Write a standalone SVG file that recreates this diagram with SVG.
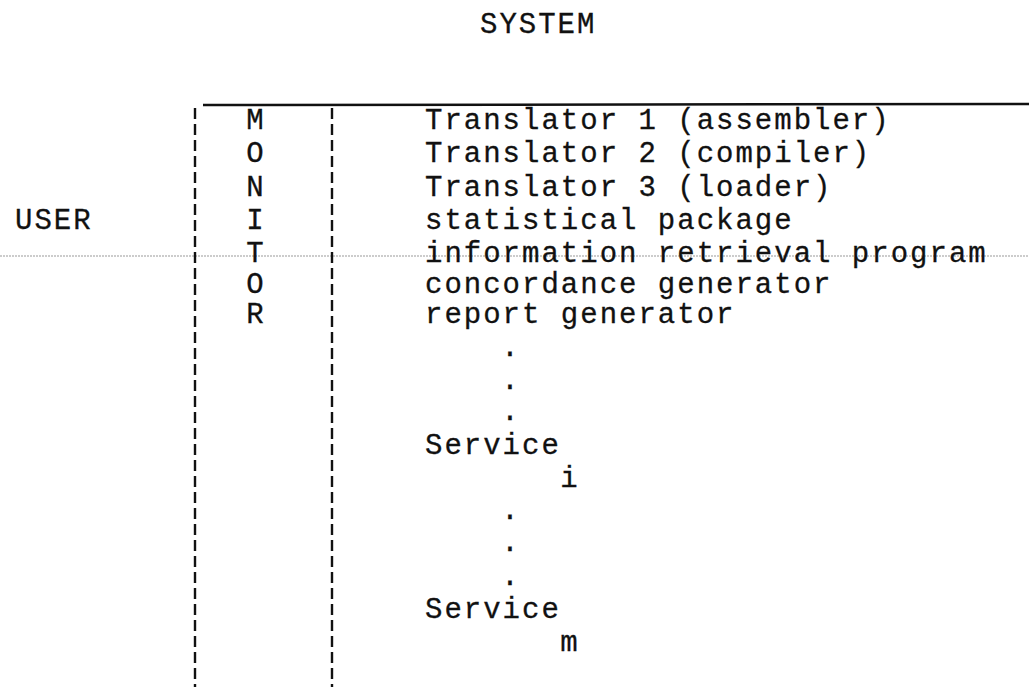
<svg xmlns="http://www.w3.org/2000/svg" width="1029" height="687" viewBox="0 0 1029 687">
<style>
text{font-family:"Liberation Mono","DejaVu Sans Mono",monospace;font-size:29px;letter-spacing:2px;fill:#111;stroke:#111;stroke-width:0.3}
.mid{text-anchor:middle}
.dash{stroke:#111;stroke-width:2.4;stroke-dasharray:11 5;fill:none}
</style>
<rect width="1029" height="687" fill="#fff"/>
<g id="lines">
<line x1="0" y1="256" x2="1029" y2="256" stroke="#999" stroke-width="1" stroke-dasharray="2 1"/>
<line x1="203" y1="105" x2="1029" y2="104" stroke="#111" stroke-width="2.5"/>
<line class="dash" x1="195" y1="108" x2="195" y2="687"/>
<line class="dash" x1="332" y1="108" x2="332" y2="687"/>
</g>
<g id="system"><text x="480" y="33">SYSTEM</text></g>
<g id="user"><text x="15" y="229">USER</text></g>
<g id="monitor">
<text class="mid" x="256" y="129">M</text>
<text class="mid" x="256" y="162">O</text>
<text class="mid" x="256" y="196">N</text>
<text class="mid" x="256" y="229">I</text>
<text class="mid" x="256" y="262">T</text>
<text class="mid" x="256" y="293">O</text>
<text class="mid" x="256" y="323">R</text>
</g>
<g id="services">
<text x="425" y="129">Translator 1 (assembler)</text>
<text x="425" y="162">Translator 2 (compiler)</text>
<text x="425" y="196">Translator 3 (loader)</text>
<text x="425" y="229">statistical package</text>
<text x="425" y="262">information retrieval program</text>
<text x="425" y="293">concordance generator</text>
<text x="425" y="323">report generator</text>
<text class="mid" x="511" y="356">.</text>
<text class="mid" x="511" y="389">.</text>
<text class="mid" x="511" y="420">.</text>
<text x="425" y="454">Service</text>
<text class="mid" x="570" y="487">i</text>
<text class="mid" x="511" y="519">.</text>
<text class="mid" x="511" y="551">.</text>
<text class="mid" x="511" y="585">.</text>
<text x="425" y="618">Service</text>
<text class="mid" x="570" y="651">m</text>
</g>
</svg>
